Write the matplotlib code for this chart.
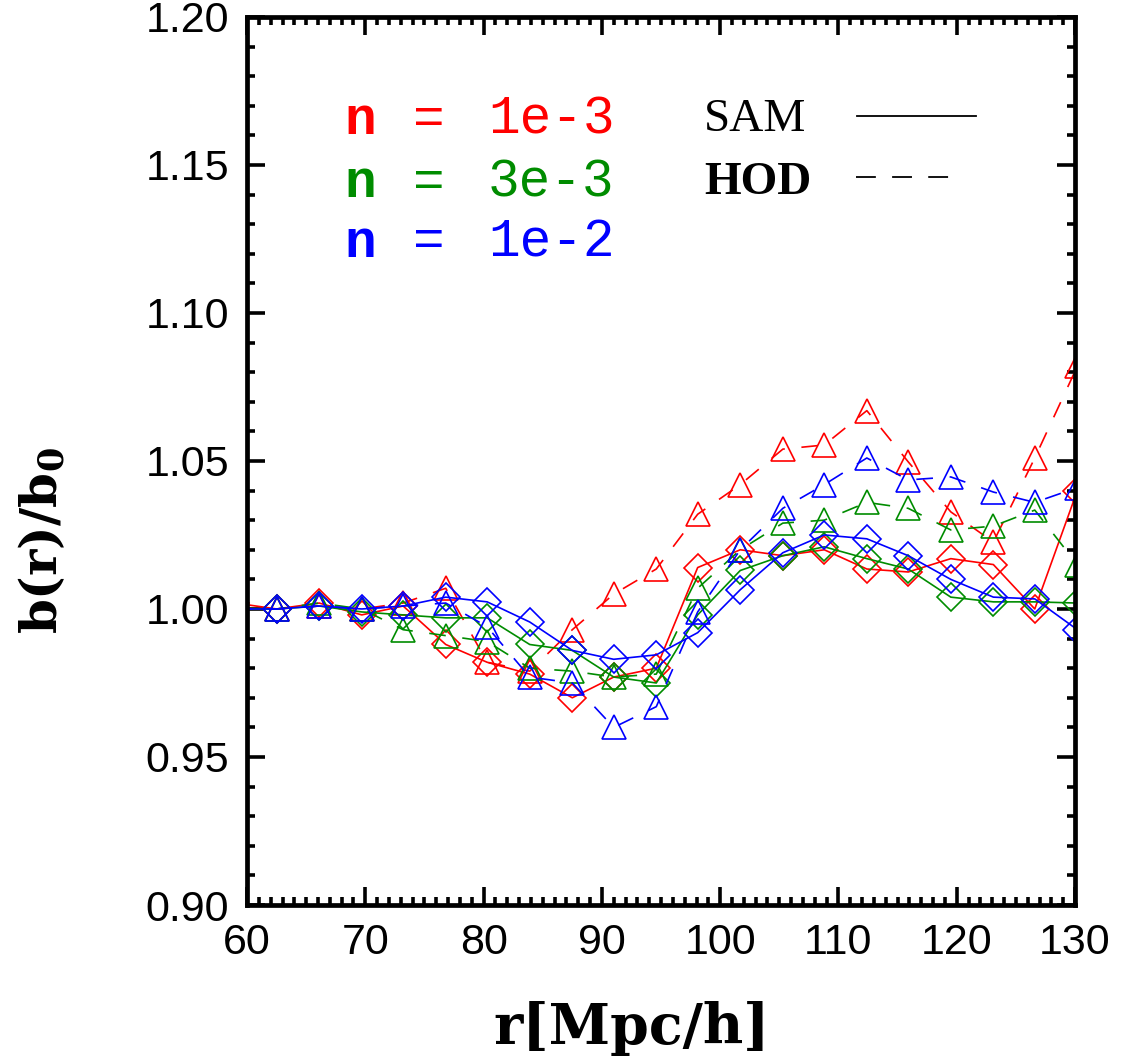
import matplotlib
matplotlib.use('Agg')
import matplotlib.pyplot as plt
from matplotlib.ticker import MultipleLocator, FormatStrFormatter

plt.rcParams['mathtext.fontset'] = 'dejavuserif'

# bin centres r [Mpc/h]
r = [59.0, 62.5, 66.1, 69.7, 73.2, 76.8, 80.3, 83.9, 87.5, 91.0, 94.6,
     98.1, 101.7, 105.3, 108.8, 112.4, 115.9, 119.5, 123.1, 126.6, 130.2]

# SAM (solid, diamonds)
sam_1e3 = [1.002, 1.000, 1.002, 0.998, 1.001, 0.988, 0.982, 0.978, 0.970, 0.977, 0.980,
           1.014, 1.020, 1.018, 1.020, 1.0135, 1.0125, 1.017, 1.015, 1.000, 1.040]
sam_3e3 = [1.000, 1.000, 1.001, 0.999, 0.998, 0.997, 0.997, 0.988, 0.986, 0.977, 0.975,
           0.998, 1.013, 1.018, 1.021, 1.017, 1.0135, 1.004, 1.0024, 1.0024, 1.002]
sam_1e2 = [1.000, 1.000, 1.001, 1.000, 1.001, 1.004, 1.0024, 0.9956, 0.986, 0.983, 0.9845,
           0.992, 1.0065, 1.019, 1.025, 1.0237, 1.018, 1.010, 1.004, 1.0034, 0.993]

# HOD (dashed, triangles)
hod_1e3 = [1.000, 1.000, 1.001, 1.000, 1.002, 1.007, 0.982, 0.979, 0.993, 1.005, 1.0135,
           1.032, 1.042, 1.054, 1.0554, 1.067, 1.0497, 1.0328, 1.0226, 1.051, 1.082]
hod_3e3 = [1.000, 1.000, 1.002, 1.000, 0.993, 0.991, 0.989, 0.980, 0.979, 0.977, 0.978,
           1.007, 1.020, 1.029, 1.030, 1.036, 1.034, 1.0267, 1.028, 1.0334, 1.015]
hod_1e2 = [1.000, 1.000, 1.001, 1.000, 1.001, 1.002, 0.994, 0.977, 0.975, 0.960, 0.967,
           0.999, 1.020, 1.034, 1.042, 1.051, 1.0436, 1.0446, 1.0395, 1.036, 1.041]

labels = ['1e-3', '3e-3', '1e-2']
colors = ['#ff0000', '#008c00', '#0000ff']

fig = plt.figure(figsize=(11.26, 10.57), dpi=100)
ax = fig.add_axes([0.2194, 0.1438, 0.7353, 0.8402])

for sam, hod, c in zip([sam_1e3, sam_3e3, sam_1e2], [hod_1e3, hod_3e3, hod_1e2], colors):
    ax.plot(r, sam, color=c, lw=1.2, marker='D', ms=14, mfc='none', mec=c, mew=1.2)
    ax.plot(r, hod, color=c, lw=1.2, dashes=(10, 10), marker='^', ms=17,
            mfc='none', mec=c, mew=1.2)

ax.set_xlim(60, 130)
ax.set_ylim(0.90, 1.20)
ax.xaxis.set_major_locator(MultipleLocator(10))
ax.xaxis.set_minor_locator(MultipleLocator(1))
ax.yaxis.set_major_locator(MultipleLocator(0.05))
ax.yaxis.set_minor_locator(MultipleLocator(0.01))
ax.yaxis.set_major_formatter(FormatStrFormatter('%.2f'))

for s in ax.spines.values():
    s.set_linewidth(3.4)
ax.tick_params(which='both', direction='in', top=True, right=True, width=2.6,
               labelsize=31, pad=13)
ax.tick_params(which='major', length=13)
ax.tick_params(which='minor', length=6)
for lab in ax.get_xticklabels() + ax.get_yticklabels():
    lab.set_fontfamily('Liberation Sans')

ax.set_xlabel('r[Mpc/h]', fontsize=40, fontfamily='DejaVu Serif', fontweight='bold')
ax.xaxis.set_label_coords(0.465, -0.108)
ax.set_ylabel(r'b(r)/b$_\mathbf{0}$', fontsize=36, fontfamily='DejaVu Serif',
              fontweight='bold')
ax.yaxis.set_label_coords(-0.215, 0.41)

# in-plot legend
rows = [0.884, 0.813, 0.746]
for y, lab, c in zip(rows, labels, colors):
    ax.text(0.118, y, 'n', transform=ax.transAxes, color=c, fontsize=38,
            fontfamily='Liberation Mono', fontweight='bold', va='center')
    ax.text(0.2, y, '=', transform=ax.transAxes, color=c, fontsize=38,
            fontfamily='Liberation Mono', va='center')
    ax.text(0.291, y, lab, transform=ax.transAxes, color=c, fontsize=38,
            fontfamily='Liberation Mono', va='center')

ax.text(0.552, rows[0], 'SAM', transform=ax.transAxes, fontsize=34,
        fontfamily='Liberation Serif', va='center')
ax.text(0.552, rows[1], 'HOD', transform=ax.transAxes, fontsize=34,
        fontfamily='Liberation Serif', fontweight='bold', va='center')
ax.plot([0.737, 0.88], [0.888, 0.888], transform=ax.transAxes, color='black', lw=1.3)
ax.plot([0.735, 0.855], [0.82, 0.82], transform=ax.transAxes, color='black', lw=1.3,
        dashes=(11, 9))

fig.savefig('out.png', dpi=100)
